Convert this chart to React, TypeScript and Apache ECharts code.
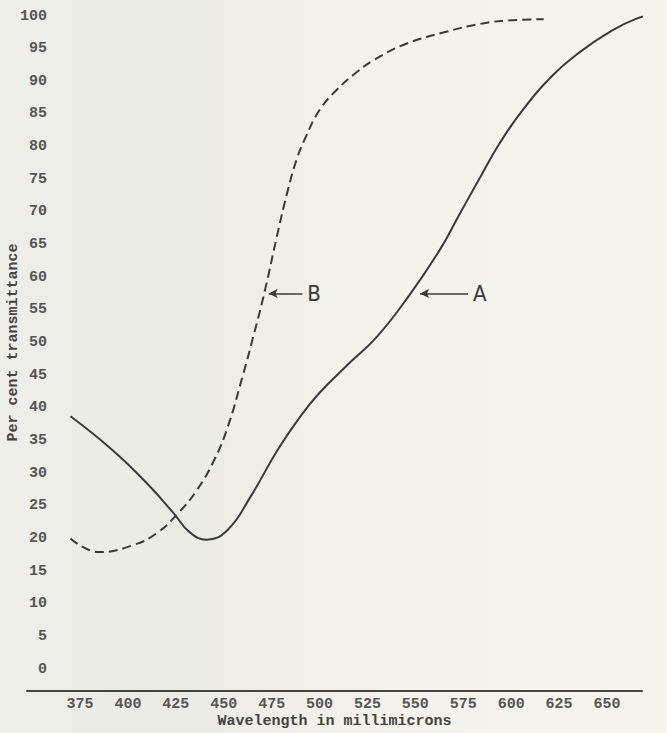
import React, { useEffect, useRef } from "react";
import * as echarts from "echarts";

// Curve A (solid): wavelength (mμ) and per cent transmittance
const waveA = [370, 392, 410, 424, 432, 441, 452, 464, 478, 490, 500, 514, 530, 547, 563, 573, 584, 594, 606, 622, 636, 650, 665.5, 681];
const transA = [38.7, 33.5, 28.4, 23.8, 21.0, 19.8, 21.3, 26.4, 33.5, 38.7, 42.3, 46.4, 50.9, 57.3, 64.3, 69.6, 75.4, 80.5, 85.6, 91.0, 94.5, 97.3, 99.6, 100.7];

// Curve B (dashed)
const waveB = [370, 385, 403, 415, 426, 436, 445, 452, 460, 465.5, 471.5, 477.7, 483, 488, 493, 500, 509, 519, 528, 544, 565, 586, 603, 617];
const transB = [20.0, 17.9, 19.0, 20.8, 23.8, 27.4, 32.0, 37.0, 45.0, 51.0, 58.0, 66.2, 72.8, 78.0, 81.6, 85.6, 88.7, 91.3, 93.2, 95.6, 97.5, 98.9, 99.4, 99.5];

// Tick labels
const xTicks = [375, 400, 425, 450, 475, 500, 525, 550, 575, 600, 625, 650];

// Arrow annotations: label, arrow-head wavelength, tail wavelength, level
const arrowB = { label: "B", head: 473.5, tail: 491, level: 57.5 };
const arrowA = { label: "A", head: 552.5, tail: 577.5, level: 57.5 };

const INK = "#3a3a3a";
const MONO = "'Liberation Mono', 'DejaVu Sans Mono', monospace";
const NARROW = "'Liberation Sans Narrow', 'DejaVu Sans Condensed', 'Roboto Condensed', sans-serif";

function arrowLine(a: { label: string; head: number; tail: number; level: number }) {
  return {
    silent: true,
    symbol: ["arrow", "none"],
    symbolSize: [7, 9],
    lineStyle: { color: INK, width: 1.5, type: "solid" },
    label: {
      show: true,
      position: "end",
      formatter: a.label,
      distance: 5,
      color: INK,
      fontSize: 22,
      fontFamily: NARROW,
    },
    data: [[{ coord: [a.head, a.level] }, { coord: [a.tail, a.level] }]],
  };
}

export default function App() {
  const ref = useRef<HTMLDivElement>(null);

  useEffect(() => {
    if (!ref.current) return;
    const chart = echarts.init(ref.current, null, { renderer: "svg" });
    const option = {
      animation: false,
      backgroundColor: "transparent",
      grid: { left: 27, right: 25, top: 16, bottom: 64, containLabel: false, outerBoundsMode: "none" },
      xAxis: {
        type: "value",
        min: 347.3,
        max: 668.3,
        offset: 22,
        name: "Wavelength in millimicrons",
        nameLocation: "middle",
        nameGap: 23,
        nameMoveOverlap: false,
        nameTextStyle: { color: "#444", fontSize: 15, fontWeight: "bold", fontFamily: MONO, lineHeight: 15 },
        axisLine: { show: true, onZero: false, lineStyle: { color: "#444", width: 2 } },
        axisTick: { show: false },
        splitLine: { show: false },
        axisLabel: {
          customValues: xTicks,
          margin: 6,
          color: "#555",
          fontSize: 15,
          lineHeight: 15,
          fontWeight: "bold",
          fontFamily: MONO,
        },
      },
      yAxis: {
        type: "value",
        min: 0,
        max: 100,
        interval: 5,
        name: "Per cent transmittance",
        nameLocation: "middle",
        nameRotate: 90,
        nameGap: 6,
        nameMoveOverlap: false,
        nameTextStyle: { color: "#444", fontSize: 15, fontWeight: "bold", fontFamily: MONO },
        axisLine: { show: false },
        axisTick: { show: false },
        splitLine: { show: false },
        axisLabel: {
          margin: -20,
          color: "#555",
          fontSize: 15,
          fontWeight: "bold",
          fontFamily: MONO,
        },
      },
      series: [
        {
          type: "line",
          name: "A",
          data: waveA.map((w, i) => [w, transA[i]]),
          smooth: 0.45,
          showSymbol: false,
          clip: false,
          lineStyle: { color: INK, width: 2 },
          markLine: arrowLine(arrowA),
        },
        {
          type: "line",
          name: "B",
          data: waveB.map((w, i) => [w, transB[i]]),
          smooth: 0.45,
          showSymbol: false,
          clip: false,
          lineStyle: { color: INK, width: 2, type: [9, 5] },
          markLine: arrowLine(arrowB),
        },
      ],
    };
    chart.setOption(option as any);
    return () => chart.dispose();
  }, []);

  return (
    <div
      ref={ref}
      style={{
        position: "fixed",
        top: 0,
        left: 0,
        width: 667,
        height: 733,
        background:
          "linear-gradient(90deg, #efefea 0%, #ebebe6 25%, #efeee8 40%, #f4f3eb 60%, #f5f4eb 100%)",
      }}
    />
  );
}
